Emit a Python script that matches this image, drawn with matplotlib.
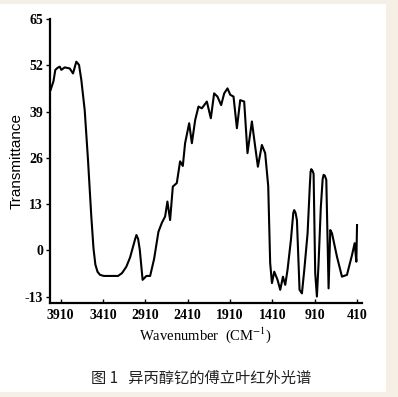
import matplotlib
matplotlib.use("Agg")
import matplotlib.pyplot as plt
from matplotlib.patches import Rectangle

plt.rcParams["mathtext.fontset"] = "stix"

wavenumber = [4028, 3995, 3973, 3945, 3921, 3902, 3862, 3803, 3764, 3725, 3693, 3666, 3626, 3587,
              3548, 3522, 3500, 3475, 3445, 3400, 3232, 3185, 3134, 3090, 3055, 3032, 3015, 2995,
              2975, 2955, 2942, 2897, 2853, 2806,
              2755, 2715, 2676, 2649, 2617, 2585, 2538, 2499, 2467, 2440, 2392, 2360,
              2321, 2282, 2242, 2183, 2136, 2097, 2058, 2014, 1978, 1939, 1907, 1868,
              1828, 1789, 1742, 1703, 1651, 1612, 1580, 1533, 1494, 1458, 1435, 1414,
              1387, 1348, 1316, 1284, 1257, 1230, 1190, 1162, 1151, 1135, 1119, 1088, 1060, 1032,
              993, 967, 958, 950, 936, 922, 903, 883, 864, 837, 815, 804, 790, 772, 745, 725, 705, 646,
              587, 528, 468, 437, 417, 409]
transmittance = [45.1, 47.5, 50.7, 51.3, 51.6, 50.7, 51.4, 51.1, 49.7, 53.0, 52.1, 47.9, 39.4, 25.4,
                 9.5, 0.5, -4.0, -6.0, -6.9, -7.2, -7.2, -6.4, -4.6, -2.0, 1.0, 3.0, 4.3, 3.2,
                 0.1, -5.0, -8.3, -7.2, -7.2, -2.4,
                 5.2, 7.7, 9.5, 13.7, 8.5, 17.9, 18.9, 25.0, 23.7, 30.1, 35.7, 30.1,
                 36.6, 40.4, 39.9, 41.8, 37.1, 44.1, 43.2, 40.8, 44.1, 45.5, 43.7, 43.2,
                 34.3, 42.2, 41.8, 27.3, 36.2, 29.1, 23.5, 29.6, 27.3, 18.0, -3.6, -9.2,
                 -6.0, -8.3, -11.1, -7.4, -9.7, -5.5, 2.9, 10.5, 11.3, 10.5, 8.5, -11.1, -12.1, -5.5,
                 4.8, 18.0, 22.0, 22.8, 22.4, 21.5, -6.4, -13.0, -4.0, 12.0, 20.0, 21.2, 21.0, 19.8, -10.7, 5.7, 4.8, -1.8,
                 -7.4, -6.9, -1.3, 2.0, -3.2, 7.1]

x_ticks = [3910, 3410, 2910, 2410, 1910, 1410, 910, 410]
y_ticks = [-13, 0, 13, 26, 39, 52, 65]

fig = plt.figure(figsize=(3.98, 3.97), dpi=100)
fig.patch.set_facecolor("#f5efe5")
panel = Rectangle((0, 0.013), 0.970, 0.977, transform=fig.transFigure,
                  facecolor="white", edgecolor="none", zorder=-10)
fig.add_artist(panel)

ax = fig.add_axes([0.1256, 0.2368, 0.784, 0.7154])
ax.set_zorder(5)
ax.patch.set_alpha(0)
ax.plot(wavenumber, transmittance, color="black", lw=1.5)
ax.set_xlim(4036, 350)
ax.set_ylim(-14.8, 65)
ax.set_xticks(x_ticks)
ax.set_yticks(y_ticks)
ax.set_xticklabels([str(v) for v in x_ticks], family="Liberation Serif", fontsize=10, fontweight="bold")
ax.set_yticklabels([str(v) for v in y_ticks], family="Liberation Serif", fontsize=10, fontweight="bold")
for s in ["top", "right"]:
    ax.spines[s].set_visible(False)
for s in ["left", "bottom"]:
    ax.spines[s].set_linewidth(1.6)
ax.tick_params(axis="x", direction="in", length=3, width=1, pad=4)
ax.tick_params(axis="y", direction="out", length=3, width=1, pad=2)

ax.set_ylabel("Transmittance", family="Liberation Sans", fontsize=11, labelpad=1)
ax.set_xlabel("Wavenumber  (CM$^{-1}$)", family="Liberation Serif", fontsize=10.5, labelpad=3)

fig.text(0.505, 0.048, "图 1   异丙醇钇的傅立叶红外光谱", family=["Noto Sans CJK SC", "DejaVu Sans"],
         fontsize=11, ha="center", va="center", color="#222222", zorder=6)

fig.savefig("out.png", dpi=100, facecolor=fig.get_facecolor())
